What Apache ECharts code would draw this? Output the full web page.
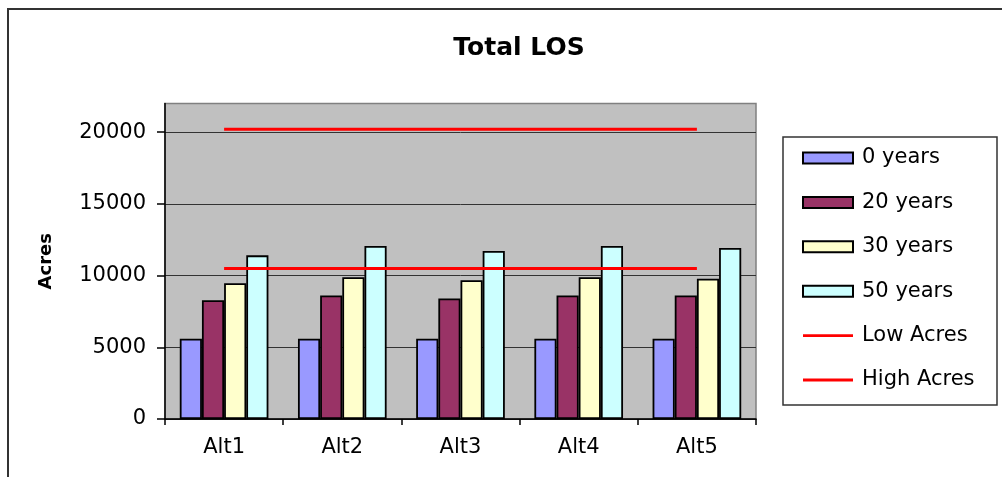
<!DOCTYPE html>
<html>
<head>
<meta charset="utf-8">
<script src="https://cdn.jsdelivr.net/npm/echarts@6/dist/echarts.min.js"></script>
<style>
  html, body { margin: 0; padding: 0; background: #fff; }
  #chart { width: 1002px; height: 477px; }
</style>
</head>
<body>
<div id="chart"></div>
<script>
// Alternatives on the category axis
const categories = ['Alt1', 'Alt2', 'Alt3', 'Alt4', 'Alt5'];

// Total LOS acreage by planning horizon
const years0  = [5600, 5600, 5600, 5600, 5600];
const years20 = [8280, 8610, 8400, 8610, 8610];
const years30 = [9470, 9890, 9680, 9890, 9780];
const years50 = [11410, 12060, 11710, 12060, 11920];

// Target bands
const lowAcres  = [10500, 10500, 10500, 10500, 10500];
const highAcres = [20200, 20200, 20200, 20200, 20200];

const FONT = 'DejaVu Sans';
const LINE_ICON = 'path://M0,0H54V3H0Z';

const chart = echarts.init(document.getElementById('chart'), null, { renderer: 'canvas' });

function barSeries(name, data, color) {
  return {
    name: name,
    type: 'bar',
    data: data,
    barGap: '0%',
    barCategoryGap: '25%',
    itemStyle: { color: color, borderColor: '#000', borderWidth: 1.8 },
    emphasis: { disabled: true },
    animation: false
  };
}

function lineSeries(name, data) {
  return {
    name: name,
    type: 'line',
    data: data,
    symbol: 'none',
    lineStyle: { color: '#ff0000', width: 3 },
    itemStyle: { color: '#ff0000' },
    emphasis: { disabled: true },
    animation: false
  };
}

chart.setOption({
  animation: false,
  backgroundColor: '#ffffff',
  textStyle: { fontFamily: FONT, color: '#000' },
  graphic: [
    {
      type: 'rect',
      shape: { x: 8, y: 9, width: 1010, height: 490 },
      style: { fill: 'none', stroke: '#333', lineWidth: 2 },
      silent: true
    },
    {
      type: 'rect',
      shape: { x: 783, y: 137, width: 214, height: 268 },
      style: { fill: '#fff', stroke: '#333', lineWidth: 1.5 },
      silent: true,
      z: -1
    }
  ],
  title: {
    text: 'Total LOS',
    left: 514,
    textAlign: 'center',
    top: 31,
    textStyle: { fontFamily: FONT, fontSize: 25, fontWeight: 'bold', color: '#000' }
  },
  legend: {
    orient: 'vertical',
    left: 802,
    top: 146,
    padding: 0,
    itemGap: 20.4,
    itemWidth: 50,
    itemHeight: 11,
    icon: 'rect',
    symbolKeepAspect: true,
    selectedMode: false,
    textStyle: { fontFamily: FONT, fontSize: 21, color: '#000', lineHeight: 24, padding: [0, 0, 0, 4] },
    data: [
      { name: '0 years' },
      { name: '20 years' },
      { name: '30 years' },
      { name: '50 years' },
      { name: 'Low Acres', icon: LINE_ICON, itemStyle: { color: '#ff0000', borderWidth: 0 } },
      { name: 'High Acres', icon: LINE_ICON, itemStyle: { color: '#ff0000', borderWidth: 0 } }
    ]
  },
  grid: {
    left: 165,
    top: 103.5,
    right: 246,
    bottom: 58,
    show: true,
    backgroundColor: '#c0c0c0',
    borderColor: '#808080',
    borderWidth: 1.5
  },
  xAxis: {
    type: 'category',
    data: categories,
    boundaryGap: true,
    axisLine: { show: true, lineStyle: { color: '#000', width: 1.5 } },
    axisTick: { show: true, alignWithLabel: false, length: 6, lineStyle: { color: '#000', width: 1.5 } },
    axisLabel: { fontFamily: FONT, fontSize: 21, color: '#000', margin: 18 },
    splitLine: { show: false }
  },
  yAxis: {
    type: 'value',
    min: 0,
    max: 22000,
    interval: 5000,
    name: 'Acres',
    nameLocation: 'middle',
    nameRotate: 90,
    nameGap: 110,
    nameTextStyle: { fontFamily: FONT, fontSize: 18, fontWeight: 'bold', color: '#000' },
    axisLine: { show: true, lineStyle: { color: '#000', width: 1.5 } },
    axisTick: { show: true, inside: false, length: 8, lineStyle: { color: '#000', width: 1.5 } },
    axisLabel: {
      fontFamily: FONT, fontSize: 21, color: '#000', margin: 19, showMaxLabel: false,
      formatter: function (v) { return String(v); }
    },
    splitLine: {
      show: true,
      lineStyle: { color: ['#333', '#333', '#333', '#333', '#333', '#808080'], width: 1 }
    }
  },
  series: [
    barSeries('0 years', years0, '#9999ff'),
    barSeries('20 years', years20, '#993366'),
    barSeries('30 years', years30, '#ffffcc'),
    barSeries('50 years', years50, '#ccffff'),
    lineSeries('Low Acres', lowAcres),
    lineSeries('High Acres', highAcres)
  ]
});
</script>
</body>
</html>
